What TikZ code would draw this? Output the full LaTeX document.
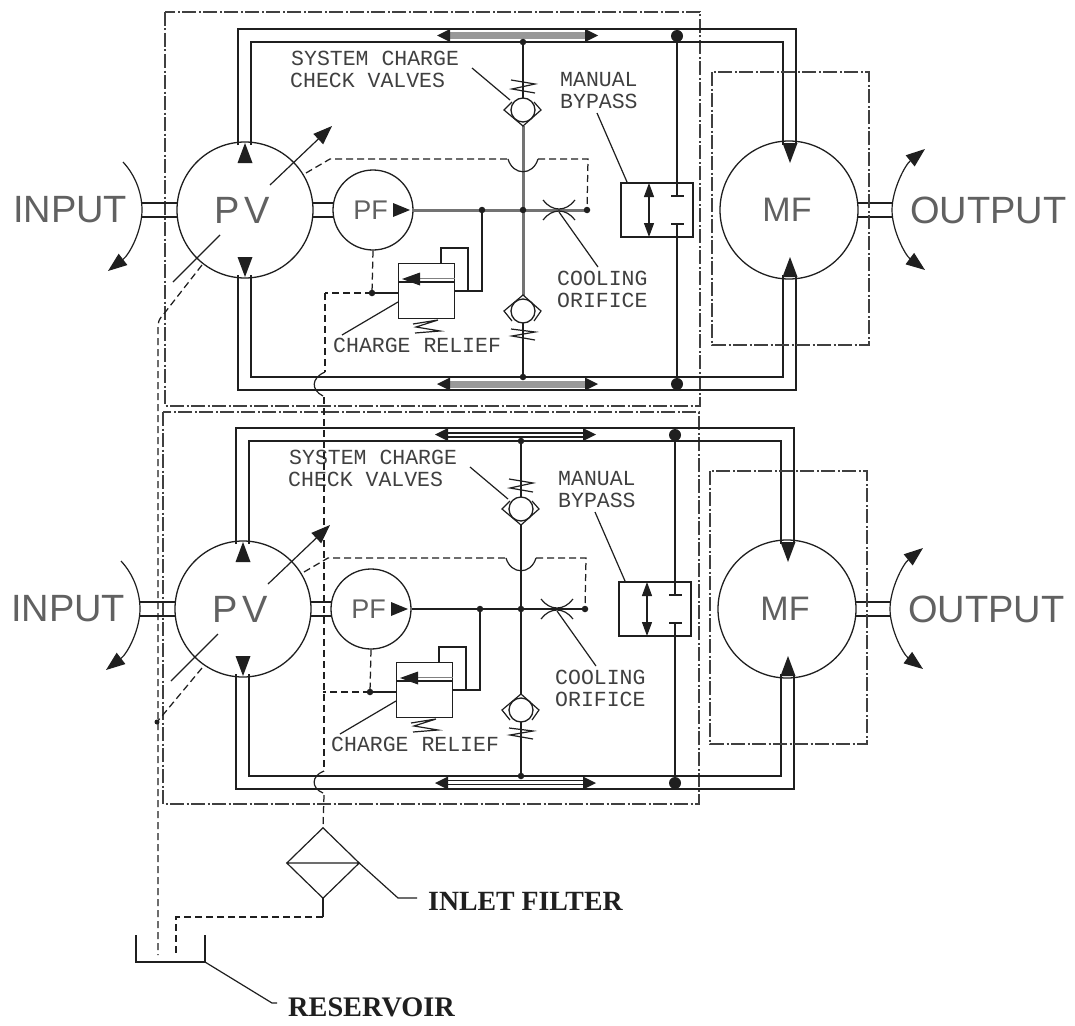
\documentclass[tikz,border=0pt]{standalone}
\usepackage{fontspec}
\setmainfont{Liberation Sans}
\newfontfamily\cadfont{Liberation Mono}
\newfontfamily\capfont{Liberation Serif}
\usetikzlibrary{arrows.meta}
\definecolor{ink}{gray}{0.12}
\definecolor{soft}{gray}{0.38}
\tikzset{
  pipe/.style={draw=ink,line width=1.4pt,line join=miter},
  thinline/.style={draw=ink,line width=1.2pt},
  pilot/.style={draw=ink,line width=1.25pt,dash pattern=on 7pt off 4pt},
  bound/.style={draw=ink!85,line width=1.2pt,dash pattern=on 14pt off 2.5pt on 2pt off 2.5pt},
  ring/.style={circle,draw=ink,line width=1.3pt,inner sep=0pt},
  big/.style={text=soft,font=\fontsize{38}{38}\selectfont,inner sep=0pt},
  cad/.style={text=ink!85,font=\cadfont\fontsize{21.5}{21.5}\selectfont,anchor=west,inner sep=0pt},
  captext/.style={text=ink,font=\capfont\bfseries\fontsize{27.8}{27.8}\selectfont,anchor=west,inner sep=0pt},
  bigtip/.style={-{Triangle[length=19pt,width=14pt]}},
  bothtip/.style={{Triangle[length=19pt,width=14pt]}-{Triangle[length=19pt,width=14pt]}},
  dot/.style={circle,fill=ink,inner sep=0pt,minimum size=#1},
  dot/.default=6.5pt
}
% #1 prefix, #2 x shift, #3 y shift, #4 crossing line style, #5 =1 for gray band
\newcommand{\hydunit}[5]{%
\begin{scope}[shift={(#2,#3)}]
  % rotating units
  \node[ring,minimum size=136pt] (#1pv) at (245,210) {};
  \node[ring,minimum size=80pt] (#1pf) at (373,210) {};
  \node[ring,minimum size=138pt] (#1mf) at (789,210) {};
  \node[big] at (242,210) {P\kern 5pt V};
  \node[big,font=\fontsize{27}{27}\selectfont] at (370.5,210) {PF};
  \node[big,font=\fontsize{34}{34}\selectfont] at (787,210) {MF};
  % shafts
  \draw[thinline] (142,203)--(177,203) (142,217)--(177,217);
  \draw[thinline] (313,203)--(333,203) (313,217)--(333,217);
  \draw[thinline] (858,203)--(892,203) (858,217)--(892,217);
  % main loops
  \draw[pipe] (238,145)--(238,29)--(796,29)--(796,145);
  \draw[pipe] (251,145)--(251,42)--(783,42)--(783,145);
  \draw[pipe] (238,275)--(238,390)--(796,390)--(796,275);
  \draw[pipe] (251,275)--(251,377)--(783,377)--(783,275);
  % ports
  \fill[ink] (245,143)--(237.5,163)--(252.5,163)--cycle;
  \fill[ink] (245,277)--(237.5,257)--(252.5,257)--cycle;
  \fill[ink] (790,163)--(782.5,143)--(797.5,143)--cycle;
  \fill[ink] (790,257)--(782.5,277)--(797.5,277)--cycle;
  % sliding bands
  \ifnum#5=1
    \fill[gray!80] (450,32.5) rectangle (585,39.5);
    \fill[gray!80] (450,380.5) rectangle (585,387.5);
  \else
    \draw[thinline] (450,34)--(585,34) (450,38)--(585,38);
    \draw[thinline] (450,381.5)--(585,381.5) (450,385.5)--(585,385.5);
  \fi
  \foreach \yy in {35.5,384}{
    \fill[ink] (437,\yy)--(450,\yy-6.5)--(450,\yy+6.5)--cycle;
    \fill[ink] (598,\yy)--(585,\yy-6.5)--(585,\yy+6.5)--cycle;
  }
  % vertical charge line
  \coordinate (#1ct) at (523,42);
  \coordinate (#1cb) at (523,377);
  \draw[thinline] (#1ct)--(523,98);
  \draw[thinline] (523,323)--(#1cb);
  \draw[#4] (523,126)--(523,296);
  \node[dot] at (#1ct) {};
  \node[dot] at (#1cb) {};
  % check valves
  \node[ring,minimum size=24pt,fill=white] (#1cvu) at (523,110) {};
  \node[ring,minimum size=24pt,fill=white] (#1cvl) at (523,311) {};
  \draw[thinline] (512,102)--(504,110)--(523,126)--(541,110)--(534,102);
  \draw[thinline] (512,321)--(504,311)--(523,295)--(541,311)--(534,321);
  \draw[thinline] (511,80)--(535,84)--(512,89)--(535,93);
  \draw[thinline] (511,329)--(535,332)--(512,336)--(535,340);
  % main charge line and orifice
  \coordinate (#1ja) at (482,210);
  \coordinate (#1jb) at (523,210);
  \coordinate (#1jc) at (587,210);
  \draw[#4] (#1pf.east)--(#1jc);
  \fill[ink] (410,210)--(393,203)--(393,217)--cycle;
  \node[dot] at (#1ja) {};
  \node[dot] at (#1jb) {};
  \node[dot] at (#1jc) {};
  \draw[thinline] (543,200) .. controls (552,212) and (566,212) .. (575,200);
  \draw[thinline] (543,220) .. controls (552,208) and (566,208) .. (575,220);
  \draw[thinline] (559,212)--(598,267);
  % pilot
  \draw[pilot] (306,173)--(330,159)--(508,159);
  \draw[thinline] (508,159) .. controls (513,176) and (533,176) .. (538,159);
  \draw[pilot] (538,159)--(588,159)--(#1jc);
  % relief valve
  \node[draw=ink,line width=1.2pt,minimum width=56pt,minimum height=55pt,inner sep=0pt] (#1rv) at (426.5,291) {};
  \draw[thinline] (398.5,282)--(454.5,282);
  \draw[draw=gray,line width=1.4pt] (415,278.5)--(454.5,278.5);
  \fill[ink] (402,279)--(420,272.5)--(420,285.5)--cycle;
  \draw[thinline] (441,263.5)--(441,248)--(468,248)--(468,291);
  \draw[thinline] (454.5,291)--(482,291)--(#1ja);
  \draw[thinline] (413,324)--(438,320)--(416,327)--(440,331)--(415,333);
  \coordinate (#1jr) at (372,293);
  \draw[pilot] (#1pf.south)--(#1jr);
  \draw[thinline] (#1jr)--(398.5,293);
  \node[dot] at (#1jr) {};
  \draw[pilot] (#1jr)--(325,293);
  \draw[thinline] (398,302)--(342,335);
  % manual bypass
  \node[draw=ink,line width=1.2pt,minimum width=72pt,minimum height=54pt,inner sep=0pt] (#1by) at (657,210) {};
  \draw[thinline,{Triangle[length=14pt,width=10pt]}-{Triangle[length=14pt,width=10pt]}] (649,183)--(649,237);
  \coordinate (#1bt) at (677,36);
  \coordinate (#1bb) at (677,384);
  \draw[thinline] (#1bt)--(677,196) (671,196)--(684,196);
  \draw[thinline] (#1bb)--(677,224) (671,224)--(684,224);
  \node[dot=12pt] at (#1bt) {};
  \node[dot=12pt] at (#1bb) {};
  \draw[thinline] (597,113)--(627,182);
  \draw[thinline] (472,68)--(510,100);
  % motor case
  \draw[bound] (712,72) rectangle (869,345);
  % displacement arrow
  \draw[thinline,bigtip] (270,185)--(332,126);
  \draw[thinline] (220,235)--(173,282);
  % shaft rotation arrows
  \draw[thinline,bigtip] (123,162) .. controls (136,176) and (142,194) .. (142,210) .. controls (142,230) and (130,254) .. (108,271);
  \draw[thinline,bothtip] (925,149) .. controls (905,165) and (892,190) .. (892,210) .. controls (892,230) and (905,255) .. (925,270);
  % labels
  \node[cad] at (291,58) {SYSTEM CHARGE};
  \node[cad] at (290,80) {CHECK VALVES};
  \node[cad] at (560,80) {MANUAL};
  \node[cad] at (560,101) {BYPASS};
  \node[cad] at (557,278) {COOLING};
  \node[cad] at (557,300) {ORIFICE};
  \node[cad] at (333,345) {CHARGE RELIEF};
  \node[big,anchor=west] at (13,210) {INPUT};
  \node[big,anchor=west] at (910,210) {OUTPUT};
\end{scope}}
\begin{document}
\begin{tikzpicture}[x=1pt,y=-1pt]
\useasboundingbox (0,0) rectangle (1075,1025);
\fill[white] (0,0) rectangle (1075,1025);
% package boundaries
\draw[bound] (165,12) rectangle (700,406);
\draw[bound] (163,412) rectangle (699,804);
\hydunit{a}{0}{0}{draw=gray!90!black,line width=3pt}{1}
\hydunit{b}{-2}{399}{thinline}{0}
% filter
\node[minimum width=72pt,minimum height=70pt,inner sep=0pt] (filt) at (323,863) {};
\draw[thinline] (filt.north)--(filt.east)--(filt.south)--(filt.west)--cycle (filt.west)--(filt.east);
\coordinate (ldf) at (398,898);
\draw[thinline] (filt.east)--(ldf)--(417,898);
\node[captext] (lf) at (428,901) {INLET FILTER};
% reservoir
\coordinate (resl) at (136,935);
\coordinate (resr) at (205,935);
\draw[thinline] (resl)--(136,962)--(205,962)--(resr);
\draw[thinline] (205,962)--(272,1003)--(277,1003);
\node[captext,font=\capfont\bfseries\fontsize{28.3}{28.3}\selectfont] (lr) at (288,1007) {RESERVOIR};
% supply line
\draw[pilot] (325,293)--(325,372);
\draw[thinline] (325,372) .. controls (311,378) and (311,390) .. (323,396);
\draw[pilot] (324,397)--(324,771);
\draw[thinline] (324,771) .. controls (311,776) and (311,788) .. (323,793);
\draw[pilot] (324,795)--(filt.north);
\draw[thinline] (filt.south)--(323,917);
\draw[pilot] (323,917)--(176,917)--(176,953);
% case drains
\draw[pilot] (202,265)--(163,315) .. controls (159,319) and (158,322) .. (158,328) -- (158,955);
\coordinate (caseb) at (157,722);
\draw[pilot] (202,668)--(caseb);
\node[dot=5pt] at (caseb) {};
\end{tikzpicture}
\end{document}
